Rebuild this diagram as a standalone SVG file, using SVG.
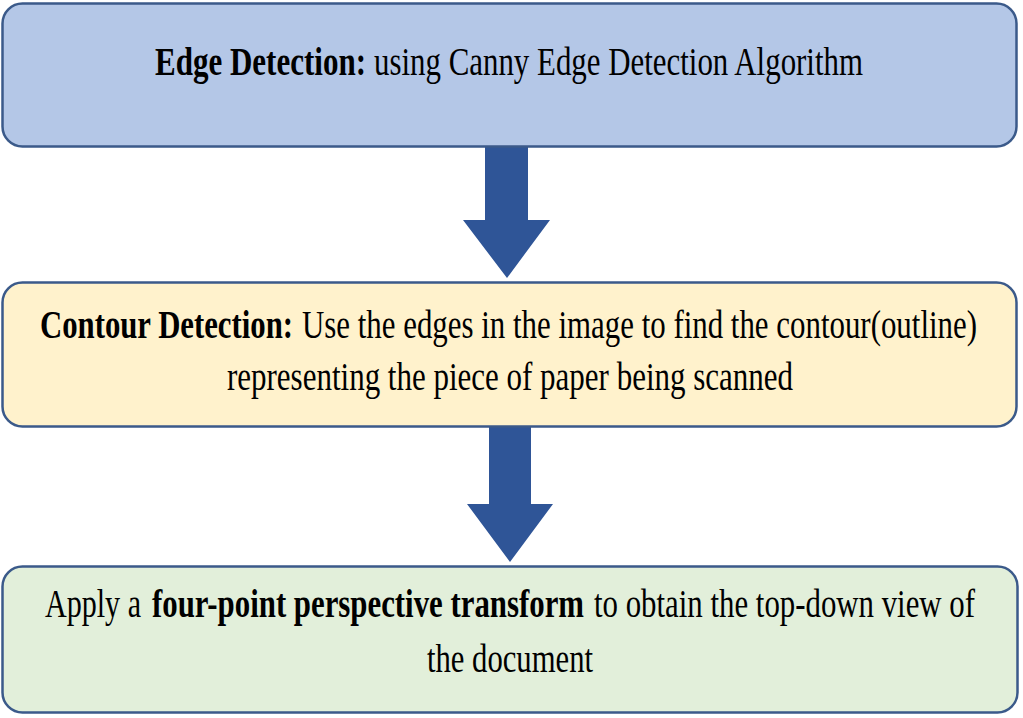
<svg xmlns="http://www.w3.org/2000/svg" width="1023" height="718" viewBox="0 0 1023 718">
<style>
.box{stroke:#3b5a8a;stroke-width:2.5}
.t{font-family:"Liberation Serif","Times New Roman",serif;font-size:41px;fill:#000}
.b{font-weight:bold}
.arrow{fill:#2f5597}
</style>
<rect width="1023" height="718" fill="#fff"/>
<g id="connectors">
<polygon class="arrow" points="485,146 528,146 528,220 550,220 507,278 463,220 485,220"/>
<polygon class="arrow" points="489,426 531,426 531,504 553,504 510,562 467,504 489,504"/>
</g>
<g id="node1">
<rect class="box" x="2.5" y="3.5" width="1014" height="143" rx="20" fill="#b4c7e7"/>
<text class="t b" x="155" y="75" textLength="211" lengthAdjust="spacingAndGlyphs">Edge Detection:</text>
<text class="t" x="374" y="75" textLength="489" lengthAdjust="spacingAndGlyphs">using Canny Edge Detection Algorithm</text>
</g>
<g id="node2">
<rect class="box" x="2.5" y="282.5" width="1014" height="144" rx="20" fill="#fff2cc"/>
<text class="t b" x="40" y="338" textLength="253" lengthAdjust="spacingAndGlyphs">Contour Detection:</text>
<text class="t" x="302" y="338" textLength="675" lengthAdjust="spacingAndGlyphs">Use the edges in the image to find the contour(outline)</text>
<text class="t" x="227" y="390" textLength="566" lengthAdjust="spacingAndGlyphs">representing the piece of paper being scanned</text>
</g>
<g id="node3">
<rect class="box" x="2.5" y="566.5" width="1015" height="146" rx="20" fill="#e2efda"/>
<text class="t" x="45" y="617" textLength="96" lengthAdjust="spacingAndGlyphs">Apply a</text>
<text class="t b" x="152" y="617" textLength="432" lengthAdjust="spacingAndGlyphs">four-point perspective transform</text>
<text class="t" x="594" y="617" textLength="381" lengthAdjust="spacingAndGlyphs">to obtain the top-down view of</text>
<text class="t" x="427" y="672" textLength="166" lengthAdjust="spacingAndGlyphs">the document</text>
</g>
</svg>
